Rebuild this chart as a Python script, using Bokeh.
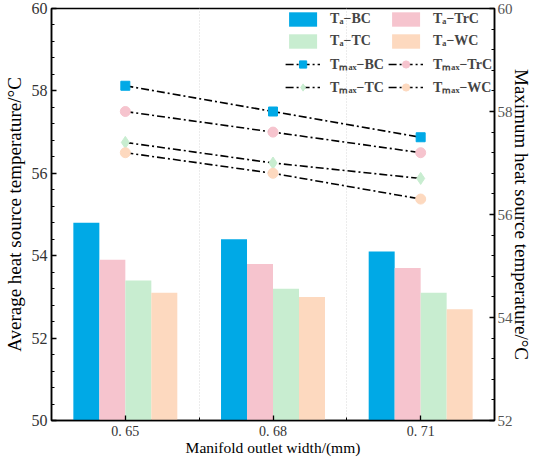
from bokeh.plotting import figure
from bokeh.models import (Range1d, LinearAxis, FixedTicker, SingleIntervalTicker,
                          Legend, LegendItem, ColumnDataSource)
from bokeh.transform import dodge
from bokeh.embed import file_html
from bokeh.resources import INLINE

# ---- data ----
x_pos = [0, 1, 2]
tick_labels = ["0. 65", "0. 68", "0. 71"]
ta_bc = [54.8, 54.4, 54.1]
ta_trc = [53.9, 53.8, 53.7]
ta_tc = [53.4, 53.2, 53.1]
ta_wc = [53.1, 53.0, 52.7]
tmax_bc = [58.5, 58.0, 57.5]
tmax_trc = [58.0, 57.6, 57.2]
tmax_tc = [57.4, 57.0, 56.7]
tmax_wc = [57.2, 56.8, 56.3]

C_BC = "#00A9E6"
C_TRC = "#F6C4CE"
C_TC = "#C8EDD0"
C_WC = "#FDD9BF"
SERIF = "Liberation Serif"

src = ColumnDataSource(dict(x=x_pos, ta_bc=ta_bc, ta_trc=ta_trc, ta_tc=ta_tc, ta_wc=ta_wc,
                            tmax_bc=tmax_bc, tmax_trc=tmax_trc, tmax_tc=tmax_tc, tmax_wc=tmax_wc))

p = figure(width=534, height=458, output_backend="svg", toolbar_location=None,
           x_range=Range1d(-0.5, 2.5), y_range=Range1d(50, 60),
           min_border_left=10, min_border_right=10, min_border_top=8, min_border_bottom=10)
p.extra_y_ranges = {"right": Range1d(52, 60)}

bw = 0.176
offs = [-0.264, -0.088, 0.088, 0.264]
bars = []
for col, c, o in zip(["ta_bc", "ta_trc", "ta_tc", "ta_wc"], [C_BC, C_TRC, C_TC, C_WC], offs):
    r = p.vbar(x=dodge("x", o), top=col, bottom=50, width=bw, source=src,
               fill_color=c, line_color=None)
    bars.append(r)

lines = []
for col, c, m, s in zip(["tmax_bc", "tmax_trc", "tmax_tc", "tmax_wc"],
                        [C_BC, C_TRC, C_TC, C_WC],
                        ["square", "circle", "diamond", "circle"], [9, 10, 12, 10]):
    ln = p.line(x="x", y=col, source=src, y_range_name="right", line_color="black",
                line_width=1.6, line_dash="8 3 2 3")
    sc = p.scatter(x="x", y=col, source=src, y_range_name="right", marker=m, size=s,
                   fill_color=c, line_color=c)
    lines.append([ln, sc])

# axes
p.yaxis.ticker = SingleIntervalTicker(interval=2, num_minor_ticks=5)
p.yaxis.axis_label = "Average heat source temperature/°C"
raxis = LinearAxis(y_range_name="right", ticker=SingleIntervalTicker(interval=2, num_minor_ticks=5),
                   axis_label="Maximum heat source temperature/°C")
p.add_layout(raxis, "right")

p.xaxis.ticker = FixedTicker(ticks=x_pos, minor_ticks=[0.5, 1.5])
p.xaxis.major_label_overrides = {x: t for x, t in zip(x_pos, tick_labels)}
p.xaxis.axis_label = "Manifold outlet width/(mm)"

for ax in [p.yaxis[0], raxis, p.xaxis[0]]:
    ax.major_tick_in = 5
    ax.major_tick_out = 0
    ax.minor_tick_in = 3
    ax.minor_tick_out = 0
    ax.axis_line_width = 1.5
    ax.axis_line_color = "black"
    ax.major_tick_line_color = "black"
    ax.minor_tick_line_color = "black"
    ax.major_tick_line_width = 1.3
    ax.major_label_text_font = SERIF
    ax.axis_label_text_font = SERIF
    ax.axis_label_text_font_style = "normal"
    ax.axis_label_text_color = "black"

p.yaxis.major_label_text_font_size = "16px"
p.yaxis.major_label_text_color = "#333333"
p.yaxis.axis_label_text_font_size = "19px"
p.yaxis.axis_label_standoff = 4
p.yaxis.major_label_standoff = 4
raxis.major_label_text_font_size = "15px"
raxis.major_label_text_color = "#555555"
raxis.axis_label_text_font_size = "19px"
raxis.axis_label_standoff = -5
raxis.major_label_standoff = 3
p.xaxis.major_label_text_font_size = "14px"
p.xaxis.major_label_text_color = "#333333"
p.xaxis.axis_label_text_font_size = "15.5px"
p.xaxis.axis_label_standoff = -3
p.xaxis.major_label_standoff = 3

p.xgrid.ticker = FixedTicker(ticks=[0.5, 1.5])
p.xgrid.grid_line_color = "#d8d8d8"
p.xgrid.grid_line_dash = "1 2"
p.ygrid.visible = False
p.outline_line_color = "black"
p.outline_line_width = 1.5
p.background_fill_color = "white"

items = [
    LegendItem(label="Tₐ−BC", renderers=[bars[0]]),
    LegendItem(label="Tₐ−TC", renderers=[bars[2]]),
    LegendItem(label="Tₘₐₓ−BC", renderers=lines[0]),
    LegendItem(label="Tₘₐₓ−TC", renderers=lines[2]),
    LegendItem(label="Tₐ−TrC", renderers=[bars[1]]),
    LegendItem(label="Tₐ−WC", renderers=[bars[3]]),
    LegendItem(label="Tₘₐₓ−TrC", renderers=lines[1]),
    LegendItem(label="Tₘₐₓ−WC", renderers=lines[3]),
]
legend = Legend(items=items, location="top_right", ncols=2, margin=0, padding=2,
                glyph_width=35, glyph_height=18, label_height=18, spacing=4,
                label_standoff=10, label_text_font=SERIF, label_text_font_size="14px",
                label_text_font_style="bold", border_line_alpha=0, background_fill_alpha=0)
p.add_layout(legend)

open("out.html", "w").write(file_html(p, INLINE))
